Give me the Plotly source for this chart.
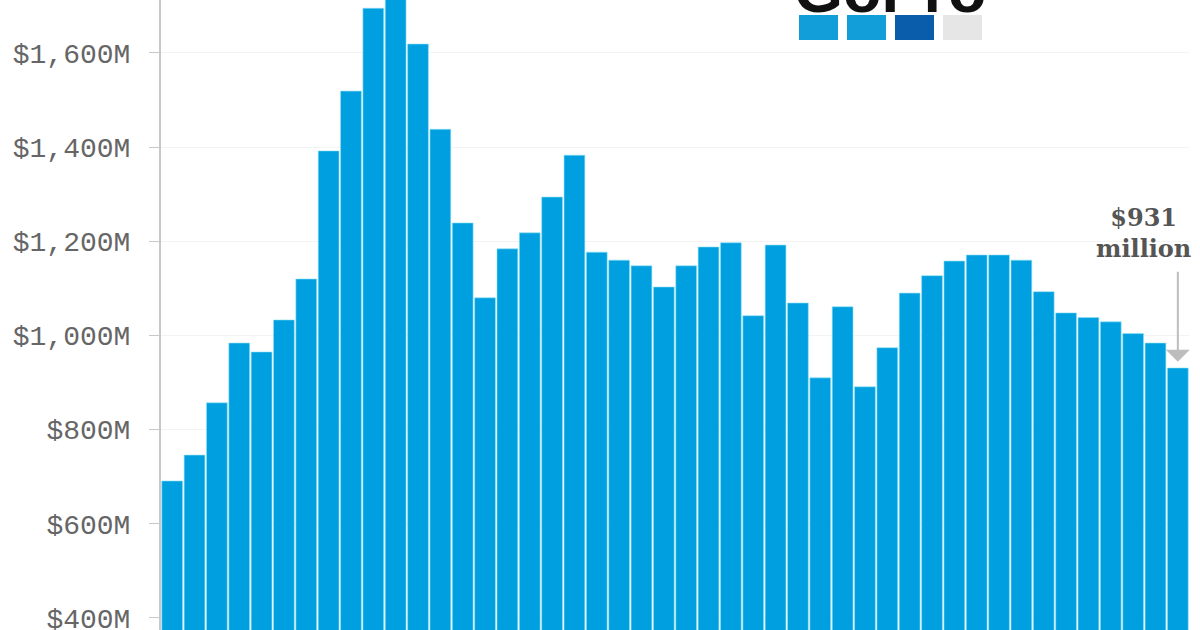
import plotly.graph_objects as go

periods = ["P%d" % i for i in range(1, 47)]
revenue_musd = [691, 746, 857, 984, 965, 1033, 1120, 1392, 1519, 1695,
                1740, 1619, 1438, 1239, 1080, 1184, 1218, 1294, 1383, 1177,
                1160, 1148, 1103, 1148, 1188, 1197, 1042, 1192, 1069, 910,
                1061, 891, 974, 1090, 1127, 1158, 1171, 1171, 1160, 1093,
                1048, 1038, 1029, 1004, 984, 931]
tick_vals = [400, 600, 800, 1000, 1200, 1400, 1600]
tick_text = ["$400M", "$600M", "$800M", "$1,000M", "$1,200M", "$1,400M", "$1,600M"]
logo_colors = ["#129ED9", "#129ED9", "#0A5DAB", "#E6E6E6"]

PW = 1028.0  # plot width in px

fig = go.Figure()
fig.add_trace(go.Bar(
    x=periods, y=revenue_musd,
    marker=dict(color="#009FDF", line=dict(color="#8EE0F5", width=0.6)),
    hoverinfo="skip",
))

# annotation text and arrow
fig.add_annotation(
    x=periods[-1], y=revenue_musd[-1], xref="x", yref="y",
    text="<b>$931<br>million</b>", showarrow=True, arrowcolor="rgba(0,0,0,0)",
    ax=-34, ay=-135, axref="pixel", ayref="pixel",
    font=dict(family="DejaVu Serif", size=24, color="#555555"),
    align="center",
)
fig.add_annotation(
    x=periods[-1], y=revenue_musd[-1] + 13, xref="x", yref="y",
    text=" ", showarrow=True, arrowhead=1, arrowsize=2.0, arrowwidth=2,
    arrowcolor="#BDBDBD", ax=0, ay=-100, standoff=0,
)

# logo
fig.add_annotation(
    x=(890 - 161) / PW, y=1.0, xref="paper", yref="paper",
    text="<b>GoPro</b>", showarrow=False, xanchor="center", yanchor="bottom",
    yshift=-27, font=dict(family="Liberation Sans", size=63, color="#111111"),
)
for i, c in enumerate(logo_colors):
    x0 = (799 + 48 * i - 161) / PW
    x1 = (838 + 48 * i - 161) / PW
    fig.add_shape(type="rect", xref="paper", yref="paper",
                  x0=x0, x1=x1, y0=1 - 40 / 630, y1=1 - 15 / 630,
                  fillcolor=c, line=dict(width=0), layer="above")

fig.update_layout(
    width=1200, height=630,
    margin=dict(l=161, r=11, t=0, b=0, autoexpand=False),
    paper_bgcolor="white", plot_bgcolor="white",
    bargap=0.07, showlegend=False,
    xaxis=dict(visible=False, type="category", range=[-0.5, 45.5]),
    yaxis=dict(range=[374.5, 1712.5], tickvals=tick_vals, ticktext=tick_text,
               automargin=False, ticklabeloverflow="allow",
               showgrid=True, gridcolor="#F3F3F3", gridwidth=1,
               showline=True, linecolor="#C8C8C8", linewidth=2,
               ticks="outside", ticklen=10, tickcolor="#C8C8C8", tickwidth=1,
               ticklabelstandoff=13, zeroline=False,
               tickfont=dict(family="Liberation Mono", size=28, color="#666666")),
)

fig.write_html("out.html", config={"displayModeBar": False},
               post_script="document.body.style.margin='0';document.body.style.overflow='hidden';")
